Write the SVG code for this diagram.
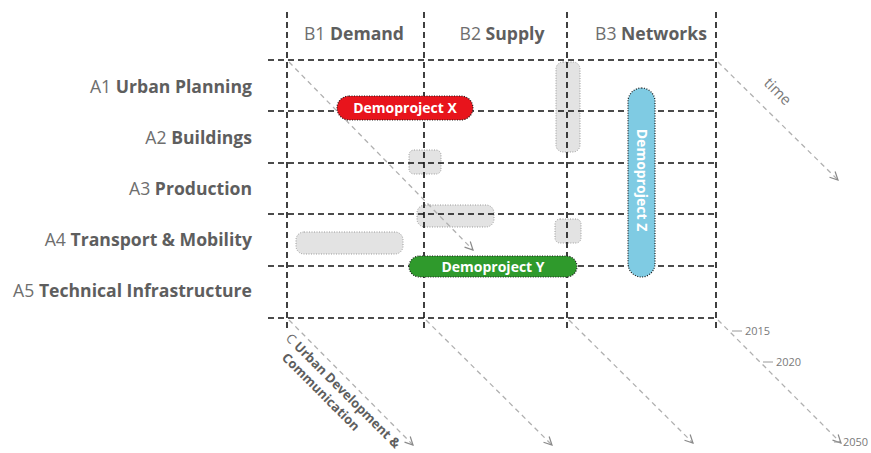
<svg xmlns="http://www.w3.org/2000/svg" width="871" height="453" viewBox="0 0 871 453">
  <style>
    .lbl { font-family: "Open Sans", "Noto Sans", "Liberation Sans", sans-serif; font-size: 17.6px; fill: #6e6e6e; }
    .lbl .b { font-weight: bold; fill: #5e5e5e; }
    .grid line { stroke: #111; stroke-width: 1.6; stroke-dasharray: 6 4; }
    .faint { fill: #e3e3e3; stroke: #9a9a9a; stroke-width: 1; stroke-dasharray: 1 1.5; }
    .proj { stroke: #1a1a1a; stroke-width: 1.2; stroke-dasharray: 1 1.5; }
    .ptxt { font-family: "Open Sans", "Noto Sans", "Liberation Sans", sans-serif; font-size: 14px; font-weight: bold; fill: #ffffff; text-anchor: middle; }
    .tarrow { stroke: #b0b0b0; stroke-width: 1.3; stroke-dasharray: 5 4; fill: none; }
    .year { font-family: "Open Sans", "Noto Sans", "Liberation Sans", sans-serif; font-size: 11px; fill: #7a7a7a; }
    .tick { stroke: #9a9a9a; stroke-width: 1; }
  </style>
  <defs>
    <marker id="chev" viewBox="0 0 10 10" refX="9" refY="5" markerWidth="10" markerHeight="10" markerUnits="userSpaceOnUse" orient="auto">
      <path d="M1,1 L9,5 L1,9" fill="none" stroke="#8a8a8a" stroke-width="1.2"/>
    </marker>
  </defs>

  <rect width="871" height="453" fill="#ffffff"/>

  <!-- light placeholder bars, sitting under the grid -->
  <g id="placeholders">
    <rect class="faint" x="556" y="62" width="24" height="90" rx="7"/>
    <rect class="faint" x="409" y="150" width="32" height="24" rx="5"/>
    <rect class="faint" x="417" y="205" width="77" height="22" rx="8"/>
    <rect class="faint" x="296" y="232" width="107" height="22" rx="8"/>
    <rect class="faint" x="555" y="219" width="26" height="24" rx="5"/>
  </g>

  <!-- matrix grid -->
  <g id="grid" class="grid">
    <line x1="287" y1="12" x2="287" y2="328"/>
    <line x1="424" y1="12" x2="424" y2="328"/>
    <line x1="567" y1="12" x2="567" y2="328"/>
    <line x1="716" y1="12" x2="716" y2="328"/>
    <line x1="268" y1="60" x2="716" y2="60"/>
    <line x1="268" y1="111" x2="716" y2="111"/>
    <line x1="268" y1="163" x2="716" y2="163"/>
    <line x1="268" y1="214" x2="716" y2="214"/>
    <line x1="268" y1="266" x2="716" y2="266"/>
    <line x1="268" y1="318" x2="716" y2="318"/>
  </g>

  <!-- time connectors -->
  <g id="connectors">
    <line class="tarrow" x1="289" y1="62" x2="473" y2="250" marker-end="url(#chev)"/>
    <line class="tarrow" x1="718" y1="62" x2="838" y2="180" marker-end="url(#chev)"/>
    <line class="tarrow" x1="289" y1="320" x2="413" y2="445" marker-end="url(#chev)"/>
    <line class="tarrow" x1="426" y1="320" x2="552" y2="445" marker-end="url(#chev)"/>
    <line class="tarrow" x1="569" y1="320" x2="693" y2="443" marker-end="url(#chev)"/>
    <line class="tarrow" x1="718" y1="320" x2="841" y2="443" marker-end="url(#chev)"/>
    <line class="tick" x1="732" y1="331" x2="742" y2="331"/>
    <line class="tick" x1="763" y1="362" x2="773" y2="362"/>
    <line class="tick" x1="834" y1="442" x2="840" y2="442"/>
  </g>

  <!-- column headers -->
  <g id="col-b1"><text class="lbl" x="354" y="40" text-anchor="middle">B1 <tspan class="b">Demand</tspan></text></g>
  <g id="col-b2"><text class="lbl" x="502" y="40" text-anchor="middle">B2 <tspan class="b">Supply</tspan></text></g>
  <g id="col-b3"><text class="lbl" x="651" y="40" text-anchor="middle">B3 <tspan class="b">Networks</tspan></text></g>

  <!-- row headers -->
  <g id="row-a1"><text class="lbl" x="252" y="93" text-anchor="end">A1 <tspan class="b">Urban Planning</tspan></text></g>
  <g id="row-a2"><text class="lbl" x="252" y="144" text-anchor="end">A2 <tspan class="b">Buildings</tspan></text></g>
  <g id="row-a3"><text class="lbl" x="252" y="195" text-anchor="end">A3 <tspan class="b">Production</tspan></text></g>
  <g id="row-a4"><text class="lbl" x="252" y="246" text-anchor="end">A4 <tspan class="b">Transport &amp; Mobility</tspan></text></g>
  <g id="row-a5"><text class="lbl" x="252" y="297" text-anchor="end">A5 <tspan class="b">Technical Infrastructure</tspan></text></g>

  <!-- demo projects -->
  <g id="demoproject-x">
    <rect class="proj" x="337" y="96" width="136" height="24" rx="12" fill="#e8141c"/>
    <text class="ptxt" x="405" y="113">Demoproject X</text>
  </g>
  <g id="demoproject-y">
    <rect class="proj" x="409" y="256" width="168" height="21" rx="10.5" fill="#2f9a2c"/>
    <text class="ptxt" x="493" y="271.5">Demoproject Y</text>
  </g>
  <g id="demoproject-z">
    <rect class="proj" x="628" y="88" width="27" height="189" rx="13.5" fill="#7fcbe3"/>
    <text class="ptxt" transform="translate(636.5,180) rotate(90)" x="0" y="0">Demoproject Z</text>
  </g>

  <!-- time axis labels -->
  <g id="time-label"><text class="year" style="font-size:15px" transform="translate(763,84) rotate(45)">time</text></g>
  <g id="c-label">
    <text class="lbl" style="font-size:13px" transform="translate(285,339) rotate(45)">C <tspan class="b">Urban Development &amp;</tspan><tspan class="b" x="11" y="16.5">Communication</tspan></text>
  </g>
  <g id="years">
    <text class="year" x="745" y="335">2015</text>
    <text class="year" x="776" y="366">2020</text>
    <text class="year" x="843" y="446">2050</text>
  </g>
</svg>
